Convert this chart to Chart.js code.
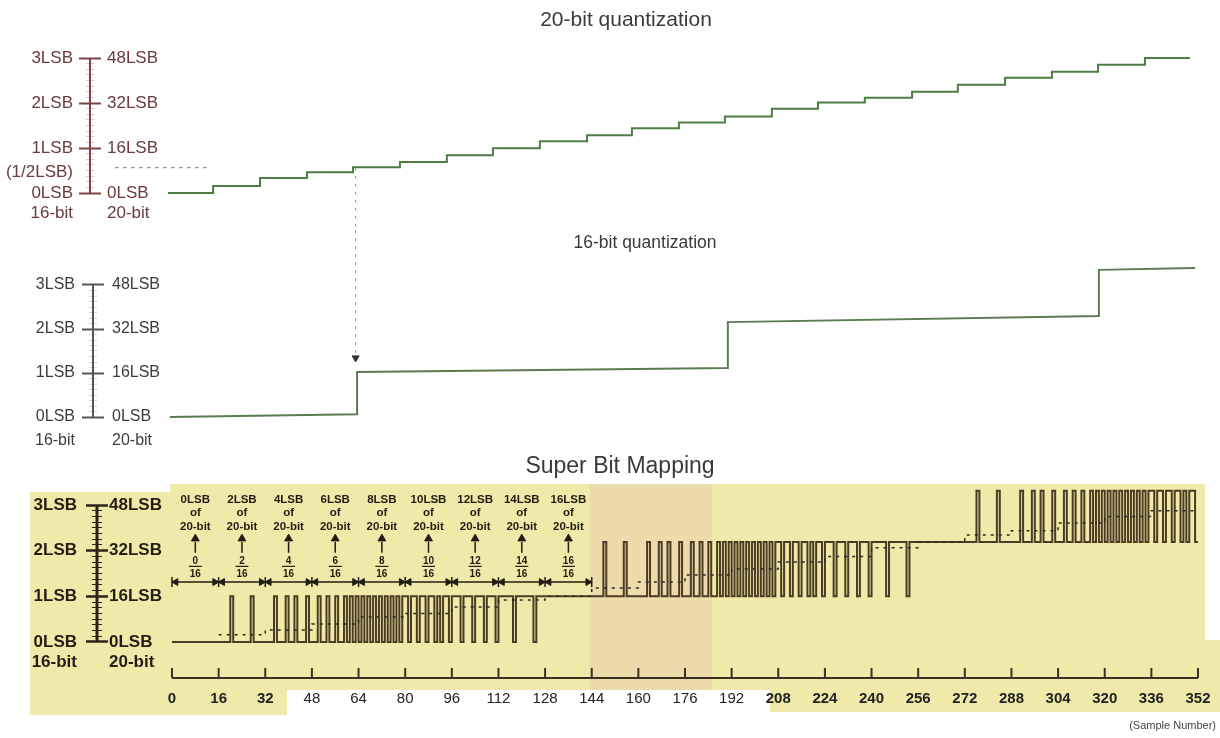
<!DOCTYPE html>
<html>
<head>
<meta charset="utf-8">
<title>Super Bit Mapping</title>
<script src="https://cdn.jsdelivr.net/npm/chart.js@4.4.0/dist/chart.umd.min.js"></script>
<style>
  html, body { margin: 0; padding: 0; background: #fff; }
  #page { position: relative; width: 1220px; height: 738px; overflow: hidden; }
  #page canvas { position: absolute; }
</style>
</head>
<body>
<div id="page">
  <canvas id="fineChart"></canvas>
  <canvas id="coarseChart"></canvas>
  <canvas id="sbmChart"></canvas>
</div>
<script>
// ---- data (levels in 20-bit LSB, x in sample numbers) ----

// 20-bit quantization: where each step happens and the level held after it
const fineStart = -1.4;
const fineEnd = 349.2;
const fineStepSamples = [14.1, 30.2, 46.3, 62.1, 78.2, 94.3, 110.1, 126.2, 142.4, 157.8, 173.9,
                         189.7, 205.8, 221.6, 237.7, 253.9, 269.6, 285.8, 301.9, 317.7, 333.8];
const fineLevels = [0, 2.5, 5.3, 7.4, 9.2, 11, 13.4, 15.9, 18.4, 20.5, 23, 25.1,
                    27.2, 30, 32.2, 33.9, 36, 38.5, 41, 43.1, 45.6, 48];

// 16-bit quantization
const coarseSamples = [-0.7, 63.5, 63.5, 190.7, 190.7, 318, 318, 351];
const coarseValues = [0, 1, 16.4, 17.8, 34.5, 36.7, 53.5, 54.2];

// guides
const halfLsbValue = 9;
const halfLsbGuide = [-19.6, 12];
const guideSample = 63;
const arrowValue = 21.5;

// Super Bit Mapping output: one digit per sample (16-bit code), 16 samples per string
const sbmLevelValues = [0, 16, 35, 53];
const sbmPattern = [
  '0000000000000000', '0000100000010000', '0001000100100010', '0010010010010101',
  '0101010101010101', '1011011011010110', '1110111011101110', '1111101111110111',
  '1111111111111111', '1111211111121111', '1112111211211121', '1121121121121212',
  '1212121212121212', '2122122122121221', '2221222122212221', '2222212222221222',
  '2222222222222222', '2222322222232222', '2223222322322232', '2232232232232323',
  '2323232323232323', '3233233233232332'
];
// 20-bit value (dashed) per 16-sample segment
const sbmMeanLevels = [null, 2.5, 4.2, 6.3, 8.8, 10, 12.3, 14.7, 16, 18.9, 21,
                       23.5, 25.6, 28, 30, 33, 35, 37.5, 39, 41.7, 44, 46];

// annotations above the pulses
const noteSegments = [0, 16, 32, 48, 64, 80, 96, 112, 128];
const noteLsb = ['0LSB', '2LSB', '4LSB', '6LSB', '8LSB', '10LSB', '12LSB', '14LSB', '16LSB'];
const noteNumerators = ['0', '2', '4', '6', '8', '10', '12', '14', '16'];
const noteDenominator = '16';
const segmentLength = 16;

// axes
const sampleTicks = [0, 16, 32, 48, 64, 80, 96, 112, 128, 144, 160, 176, 192, 208, 224,
                     240, 256, 272, 288, 304, 320, 336, 352];
const lsbTickValues = [0, 16, 32, 48];
const lsb16Labels = ['0LSB', '1LSB', '2LSB', '3LSB'];
const lsb20Labels = ['0LSB', '16LSB', '32LSB', '48LSB'];
const minorTickValues = [2, 4, 6, 8, 10, 12, 14, 18, 20, 22, 24, 26, 28, 30, 34, 36, 38, 40, 42, 44, 46];
const bitLabels = ['16-bit', '20-bit'];
const halfLsbLabel = '(1/2LSB)';

// ---- layout (page pixels) ----
const FONT = "'Liberation Sans', Arial, Helvetica, sans-serif";
const PAGE_W = 1220;
const unitX = (1198 - 172) / 352;   // px per sample, sample 0 at x=172

// left: page x of the canvas; right: page x of the chart area's right edge
// (the title is centred between the two)
const panelFine = { top: 0, left: 0, spine: 90, right: 1252, zeroY: 193, unitPx: 2.8125, yMin: -12, yMax: 54,
                    titleY: 20, titleSize: 21, bitLabelAt: -7.1, halfLsbLabelAt: 7.5 };
const panelCoarse = { top: 230, left: 0, spine: 93, right: 1290, zeroY: 417, unitPx: 2.75, yMin: -13, yMax: 56,
                      titleY: 243, titleSize: 17.5, bitLabelAt: -8.4 };
const panelSbm = { top: 455, left: 24, spine: 97, right: 1216, zeroY: 642, unitPx: 2.854, yMin: -12.6, yMax: 54,
                   titleY: 467, titleSize: 23, bitLabelAt: -7, height: 283 };

const styleFine = { text: '#6b3a3a', tick: '#7a4444', minor: '#e2c8c8', tickWidth: 2, minorLen: 4,
                    fontSize: 17, fontWeight: 'normal', outerPad: 6, innerPad: 17, spineWidth: 2 };
const styleCoarse = { text: '#3c3c3c', tick: '#555555', minor: '#ddd2d2', tickWidth: 2, minorLen: 4,
                      fontSize: 16, fontWeight: 'normal', outerPad: 7, innerPad: 19, spineWidth: 2 };
const styleSbm = { text: '#241e12', tick: '#2a2418', minor: '#2a2418', tickWidth: 2.5, minorLen: 5,
                   fontSize: 17, fontWeight: 'bold', outerPad: 9, innerPad: 12, spineWidth: 3 };

function geometry(p) {
  const chartTop = p.zeroY - p.top - p.yMax * p.unitPx;
  const chartBottom = p.zeroY - p.top - p.yMin * p.unitPx;
  const height = p.height || Math.ceil(chartBottom + 34);
  const width = Math.max(p.right, PAGE_W) - p.left;
  const titlePadTop = p.titleY - p.top - p.titleSize / 2;
  return {
    chartTop, chartBottom, height, width, titlePadTop,
    titlePadBottom: chartTop - titlePadTop - p.titleSize,
    padBottom: p.height ? 0 : height - chartBottom,
    padRight: p.left + width - p.right,
    xMin: -(172 - p.spine) / unitX,
    xMax: 352 + (p.right - 1198) / unitX
  };
}

// value on a panel's y scale at an absolute page y
function valueAt(p, pageY) {
  return (p.zeroY - pageY) / p.unitPx;
}

// levels held between consecutive edges -> line vertices
function stepPath(edges, levels) {
  const pts = [];
  levels.forEach((v, i) => {
    if (v === null) { pts.push({ x: edges[i], y: null }); return; }
    pts.push({ x: edges[i], y: v }, { x: edges[i + 1], y: v });
  });
  return pts;
}

function buildLsbScales(p, st) {
  const outerLabels = new Map();
  const innerLabels = new Map();
  lsbTickValues.forEach((v, i) => {
    outerLabels.set(v, lsb16Labels[i]);
    innerLabels.set(v, lsb20Labels[i]);
  });
  outerLabels.set(p.bitLabelAt, bitLabels[0]);
  innerLabels.set(p.bitLabelAt, bitLabels[1]);
  if (p.halfLsbLabelAt !== undefined) outerLabels.set(p.halfLsbLabelAt, halfLsbLabel);

  const outerVals = [...new Set([...outerLabels.keys(), ...minorTickValues])].sort((a, b) => a - b);
  const innerVals = [...new Set([...innerLabels.keys(), ...minorTickValues])].sort((a, b) => a - b);

  const kind = (ctx) => {
    const v = ctx.tick ? ctx.tick.value : 0;
    if (lsbTickValues.includes(v)) return 'major';
    return minorTickValues.includes(v) ? 'minor' : 'none';
  };
  const grid = (len) => ({
    display: true,
    drawOnChartArea: false,
    drawTicks: true,
    tickLength: len,
    color: st.tick,
    tickColor: ctx => ({ major: st.tick, minor: st.minor, none: 'rgba(0,0,0,0)' })[kind(ctx)],
    tickWidth: ctx => kind(ctx) === 'major' ? st.tickWidth : 1,
    tickBorderDash: ctx => kind(ctx) === 'minor' ? [0, 11 - st.minorLen, st.minorLen, 40] : []
  });
  const font = { family: FONT, size: st.fontSize, weight: st.fontWeight };

  return {
    y: {
      type: 'linear', position: 'left', weight: 1, min: p.yMin, max: p.yMax,
      border: { display: false },
      grid: grid(11),
      ticks: { autoSkip: false, padding: st.outerPad, color: st.text, font,
               callback: v => outerLabels.get(v) || '' },
      afterBuildTicks: s => { s.ticks = outerVals.map(v => ({ value: v })); },
      afterFit: s => { s.width = p.spine - p.left; }
    },
    y20: {
      type: 'linear', position: 'left', weight: 0, min: p.yMin, max: p.yMax,
      border: { display: false },
      grid: grid(-11),
      ticks: { autoSkip: false, mirror: true, padding: st.innerPad, color: st.text, font,
               callback: v => innerLabels.get(v) || '' },
      afterBuildTicks: s => { s.ticks = innerVals.map(v => ({ value: v })); },
      afterFit: s => { s.width = 0; }
    }
  };
}

function spineDataset(g, st) {
  return {
    data: [{ x: g.xMin, y: 0 }, { x: g.xMin, y: 48 }],
    showLine: true, borderColor: st.tick, borderWidth: st.spineWidth, pointRadius: 0, clip: false
  };
}

function baseOptions(p, g, titleText, scales) {
  return {
    responsive: false,
    animation: false,
    events: [],
    layout: { autoPadding: false, padding: { left: 0, right: g.padRight, top: 0, bottom: g.padBottom } },
    plugins: {
      legend: { display: false },
      tooltip: { enabled: false },
      title: {
        display: true, text: titleText, color: '#3a3a3a',
        font: { family: FONT, size: p.titleSize, weight: 'normal', lineHeight: 1 },
        padding: { top: g.titlePadTop, bottom: g.titlePadBottom }
      }
    },
    scales
  };
}

function placeCanvas(id, p, g) {
  const c = document.getElementById(id);
  c.width = g.width;
  c.height = g.height;
  c.style.top = p.top + 'px';
  c.style.left = p.left + 'px';
  return c;
}

// ---- 20-bit quantization ----
function createFineChart() {
  const p = panelFine, g = geometry(p);
  const canvas = placeCanvas('fineChart', p, g);
  const scales = Object.assign({ x: { type: 'linear', display: false, min: g.xMin, max: g.xMax } },
                               buildLsbScales(p, styleFine));
  return new Chart(canvas, {
    type: 'scatter',
    data: {
      datasets: [
        {
          data: stepPath([fineStart, ...fineStepSamples, fineEnd], fineLevels),
          showLine: true, borderColor: '#4e7d44', borderWidth: 2, pointRadius: 0
        },
        {
          data: halfLsbGuide.map(x => ({ x, y: halfLsbValue })),
          showLine: true, borderColor: '#8a8a8a', borderWidth: 1, borderDash: [4, 4], pointRadius: 0
        },
        {
          data: [{ x: guideSample, y: halfLsbValue }, { x: guideSample, y: valueAt(p, panelCoarse.top) }],
          showLine: true, borderColor: '#a88c8c', borderWidth: 1, borderDash: [3, 5], pointRadius: 0, clip: false
        },
        spineDataset(g, styleFine)
      ]
    },
    options: baseOptions(p, g, '20-bit quantization', scales)
  });
}

// ---- 16-bit quantization ----
function createCoarseChart() {
  const p = panelCoarse, g = geometry(p);
  const canvas = placeCanvas('coarseChart', p, g);
  const scales = Object.assign({ x: { type: 'linear', display: false, min: g.xMin, max: g.xMax } },
                               buildLsbScales(p, styleCoarse));
  return new Chart(canvas, {
    type: 'scatter',
    data: {
      datasets: [
        {
          data: coarseSamples.map((x, i) => ({ x, y: coarseValues[i] })),
          showLine: true, borderColor: '#5b7b52', borderWidth: 2, pointRadius: 0
        },
        {
          data: [{ x: guideSample, y: valueAt(p, p.top) }, { x: guideSample, y: arrowValue + 1.5 }],
          showLine: true, borderColor: '#a88c8c', borderWidth: 1, borderDash: [3, 5], pointRadius: 0, clip: false
        },
        {
          data: [{ x: guideSample, y: arrowValue }],
          showLine: false, pointStyle: 'triangle', pointRotation: 180, pointRadius: 4,
          pointBackgroundColor: '#333', pointBorderColor: '#333', pointBorderWidth: 1
        },
        spineDataset(g, styleCoarse)
      ]
    },
    options: baseOptions(p, g, '16-bit quantization', scales)
  });
}

// ---- Super Bit Mapping ----
const INK = '#221c10';
const noteRows = { lsb: 49.75, of: 45.2, bits: 40.3, head: 36.2, shaftTop: 35, shaftBottom: 31.3,
                   num: 28.4, bar: 26.5, den: 23.8, span: 21 };
const arrowHeadInset = 1.3;

// paper colour behind the bottom figure, page coordinates [x, y, w, h]
const paperRects = [[30, 492, 140, 223], [170, 484, 1035, 206], [170, 690, 117, 25], [770, 640, 450, 72]];
const paperTint = [590, 484, 122, 206];

const sbmPaper = {
  id: 'sbmPaper',
  beforeDraw(chart) {
    const ctx = chart.ctx;
    const ox = panelSbm.left, oy = panelSbm.top;
    ctx.save();
    ctx.fillStyle = '#efeaaa';
    paperRects.forEach(r => ctx.fillRect(r[0] - ox, r[1] - oy, r[2], r[3]));
    ctx.fillStyle = 'rgba(232, 196, 178, 0.35)';
    ctx.fillRect(paperTint[0] - ox, paperTint[1] - oy, paperTint[2], paperTint[3]);
    ctx.restore();
  }
};

const sbmNotes = {
  id: 'sbmNotes',
  afterDatasetsDraw(chart) {
    const { ctx, scales: { x, y } } = chart;
    ctx.save();
    ctx.fillStyle = INK;
    ctx.textAlign = 'center';
    ctx.textBaseline = 'middle';
    noteSegments.forEach((s, i) => {
      const cx = x.getPixelForValue(s + segmentLength / 2);
      ctx.font = 'bold 11.5px ' + FONT;
      ctx.fillText(noteLsb[i], cx, y.getPixelForValue(noteRows.lsb));
      ctx.fillText('of', cx, y.getPixelForValue(noteRows.of));
      ctx.fillText('20-bit', cx, y.getPixelForValue(noteRows.bits));
      ctx.font = 'bold 10px ' + FONT;
      ctx.fillText(noteNumerators[i], cx, y.getPixelForValue(noteRows.num));
      ctx.fillText(noteDenominator, cx, y.getPixelForValue(noteRows.den));
    });
    ctx.restore();
  }
};

function createSbmChart() {
  const p = panelSbm, g = geometry(p);
  const canvas = placeCanvas('sbmChart', p, g);

  // per-sample output level -> runs
  const codes = sbmPattern.join('').split('').map(Number);
  const edges = [0];
  const levels = [];
  codes.forEach((c, s) => {
    const v = sbmLevelValues[c];
    if (levels.length && levels[levels.length - 1] === v) edges[edges.length - 1] = s + 1;
    else { levels.push(v); edges.push(s + 1); }
  });
  const sbmPath = stepPath(edges, levels);

  const segEdges = sbmMeanLevels.map((_, i) => i * segmentLength).concat([sbmMeanLevels.length * segmentLength]);
  const meanPath = stepPath(segEdges, sbmMeanLevels);

  const centers = noteSegments.map(s => s + segmentLength / 2);
  const shafts = [];
  centers.forEach(c => shafts.push({ x: c, y: noteRows.shaftBottom }, { x: c, y: noteRows.shaftTop }, { x: c, y: null }));
  const spanEnd = noteSegments[noteSegments.length - 1] + segmentLength;
  const spanHeads = [];
  const spanRot = [];
  noteSegments.forEach(s => {
    spanHeads.push({ x: s + arrowHeadInset, y: noteRows.span }, { x: s + segmentLength - arrowHeadInset, y: noteRows.span });
    spanRot.push(-90, 90);
  });
  const spanBars = noteSegments.concat([spanEnd]).map(x => ({ x, y: noteRows.span }));
  const tickMarkY = p.yMin + 5 / p.unitPx;

  const scales = Object.assign({
    x: {
      type: 'linear', min: g.xMin, max: g.xMax,
      border: { display: false },
      grid: { display: true, drawOnChartArea: false, drawTicks: true, tickLength: 12, tickColor: 'rgba(0,0,0,0)' },
      ticks: {
        autoSkip: false, maxRotation: 0, minRotation: 0, padding: 0, color: '#222',
        font: ctx => ({ family: FONT, size: 15,
                        weight: ctx.tick && (ctx.tick.value <= 32 || ctx.tick.value >= 208) ? 'bold' : 'normal' })
      },
      title: { display: true, text: '(Sample Number)', align: 'end', color: '#444',
               font: { family: FONT, size: 11 }, padding: { top: 0, bottom: 5 } },
      afterBuildTicks: s => { s.ticks = sampleTicks.map(v => ({ value: v })); },
      afterFit: s => { s.height = g.height - g.chartBottom; }
    }
  }, buildLsbScales(p, styleSbm));

  return new Chart(canvas, {
    type: 'scatter',
    data: {
      datasets: [
        { data: meanPath, showLine: true, borderColor: '#2e2a20', borderWidth: 1.5, borderDash: [3, 5], pointRadius: 0 },
        { data: sbmPath, showLine: true, borderColor: '#4a3b22', borderWidth: 2, pointRadius: 0 },
        // span arrows |<--->|
        { data: [{ x: noteSegments[0], y: noteRows.span }, { x: spanEnd, y: noteRows.span }],
          showLine: true, borderColor: INK, borderWidth: 1.5, pointRadius: 0 },
        { data: spanHeads, showLine: false, pointStyle: 'triangle', pointRotation: spanRot, pointRadius: 4,
          pointBackgroundColor: INK, pointBorderColor: INK, pointBorderWidth: 1 },
        { data: spanBars, showLine: false, pointStyle: 'line', pointRotation: 90, pointRadius: 5,
          pointBorderColor: INK, pointBorderWidth: 1.5 },
        // up arrows and fraction bars
        { data: shafts, showLine: true, spanGaps: false, borderColor: INK, borderWidth: 1.5, pointRadius: 0 },
        { data: centers.map(x => ({ x, y: noteRows.head })), showLine: false, pointStyle: 'triangle', pointRadius: 4.5,
          pointBackgroundColor: INK, pointBorderColor: INK, pointBorderWidth: 1 },
        { data: centers.map(x => ({ x, y: noteRows.bar })), showLine: false, pointStyle: 'line', pointRadius: 6.5,
          pointBorderColor: INK, pointBorderWidth: 1.2 },
        // sample axis
        { data: [{ x: sampleTicks[0], y: p.yMin }, { x: sampleTicks[sampleTicks.length - 1], y: p.yMin }],
          showLine: true, borderColor: '#3a3020', borderWidth: 2, pointRadius: 0, clip: false },
        { data: sampleTicks.map(x => ({ x, y: tickMarkY })), showLine: false, pointStyle: 'line', pointRotation: 90,
          pointRadius: 5, pointBorderColor: '#3a3020', pointBorderWidth: 2, clip: false },
        spineDataset(g, styleSbm)
      ]
    },
    options: baseOptions(p, g, 'Super Bit Mapping', scales),
    plugins: [sbmPaper, sbmNotes]
  });
}

Chart.defaults.font.family = FONT;
createFineChart();
createCoarseChart();
createSbmChart();
</script>
</body>
</html>
